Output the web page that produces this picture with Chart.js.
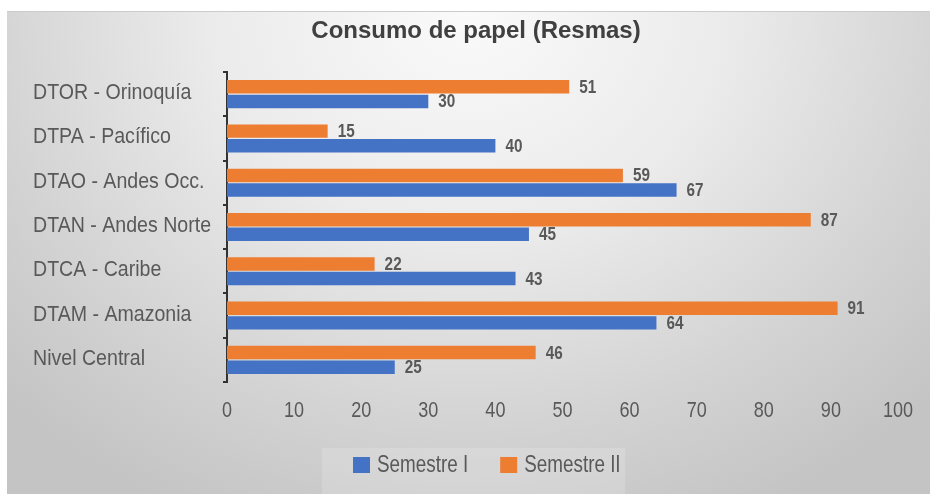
<!DOCTYPE html>
<html>
<head>
<meta charset="utf-8">
<script src="https://cdn.jsdelivr.net/npm/chart.js@4/dist/chart.umd.min.js"></script>
<style>
  html, body { margin: 0; padding: 0; background: #ffffff; }
  #wrap { position: relative; width: 930px; height: 494px; overflow: hidden; }
  #panel {
    position: absolute; left: 7px; top: 11px; right: 0; bottom: 0;
    border-top: 1px solid #cccccc;
    background: radial-gradient(ellipse 70% 115% at 50% 0%, #fafafa 0%, #ebebeb 40%, #d3d3d3 75%, #c4c4c4 100%);
  }
  #chart { position: absolute; left: 0; top: 0; }
</style>
</head>
<body>
<div id="wrap">
  <div id="panel"></div>
  <canvas id="chart" width="930" height="494"></canvas>
</div>
<script>
const chartTitle = 'Consumo de papel (Resmas)';
const categories = [
  'DTOR - Orinoquía',
  'DTPA - Pacífico',
  'DTAO - Andes Occ.',
  'DTAN - Andes Norte',
  'DTCA - Caribe',
  'DTAM - Amazonia',
  'Nivel Central'
];
const semestreI  = [30, 40, 67, 45, 43, 64, 25];
const semestreII = [51, 15, 59, 87, 22, 91, 46];
const xTicks = [0, 10, 20, 30, 40, 50, 60, 70, 80, 90, 100];

const BLUE = '#4472C4';
const ORANGE = '#ED7D31';
const TEXT = '#595959';
const SANS = "'Liberation Sans', Arial, sans-serif";

// Condensed text: regular face squeezed horizontally
function narrowText(ctx, text, x, y, align, sx) {
  ctx.save();
  ctx.translate(x, y);
  ctx.scale(sx, 1);
  ctx.textAlign = align;
  ctx.textBaseline = 'middle';
  ctx.fillText(text, 0, 0);
  ctx.restore();
}

// Value labels at the end of each bar
const valueLabels = {
  id: 'valueLabels',
  afterDatasetsDraw(chart) {
    const ctx = chart.ctx;
    ctx.save();
    ctx.font = 'bold 18px ' + SANS;
    ctx.fillStyle = TEXT;
    chart.data.datasets.forEach((ds, i) => {
      chart.getDatasetMeta(i).data.forEach((bar, j) => {
        narrowText(ctx, String(ds.data[j]), bar.x + 10, bar.y + 1, 'left', 0.85);
      });
    });
    ctx.restore();
  }
};

// Axis tick labels in the condensed style, placed from the scales
const axisLabels = {
  id: 'axisLabels',
  afterDraw(chart) {
    const ctx = chart.ctx;
    const xs = chart.scales.x, ys = chart.scales.y;
    ctx.save();
    ctx.fillStyle = TEXT;
    ctx.font = '22px ' + SANS;
    xs.ticks.forEach((t, i) => {
      narrowText(ctx, String(t.label), xs.getPixelForTick(i), xs.top + 29, 'center', 0.82);
    });
    ys.ticks.forEach((t, i) => {
      narrowText(ctx, String(t.label), 33, ys.getPixelForTick(i) - 1, 'left', 0.89);
    });
    ctx.restore();
  }
};

// Title and legend at fixed spots in the panel
const frame = {
  id: 'frame',
  beforeDraw(chart) {
    const ctx = chart.ctx;
    ctx.save();
    ctx.fillStyle = 'rgba(255,255,255,0.16)';
    ctx.fillRect(322, 448, 303, 46);
    ctx.restore();
  },
  afterDraw(chart) {
    const ctx = chart.ctx;
    ctx.save();
    ctx.font = 'bold 24px ' + SANS;
    ctx.fillStyle = '#404040';
    ctx.textAlign = 'center';
    ctx.textBaseline = 'middle';
    ctx.fillText(chartTitle, 476, 31);

    // legend: Semestre I first, then Semestre II
    ctx.font = '23px ' + SANS;
    const sx = 0.82;
    const items = [1, 0].map(i => chart.data.datasets[i]);
    let x = 353;
    items.forEach(ds => {
      ctx.fillStyle = ds.backgroundColor;
      ctx.fillRect(x, 457, 17, 16);
      ctx.fillStyle = TEXT;
      narrowText(ctx, ds.label, x + 24, 466, 'left', sx);
      x += 24 + ctx.measureText(ds.label).width * sx + 32;
    });
    ctx.restore();
  }
};

new Chart(document.getElementById('chart'), {
  type: 'bar',
  data: {
    labels: categories,
    datasets: [
      { label: 'Semestre II', data: semestreII, backgroundColor: ORANGE,
        categoryPercentage: 0.66, barPercentage: 0.92 },
      { label: 'Semestre I', data: semestreI, backgroundColor: BLUE,
        categoryPercentage: 0.66, barPercentage: 0.92 }
    ]
  },
  options: {
    indexAxis: 'y',
    responsive: false,
    animation: false,
    layout: { padding: { left: 33, right: 32, top: 72, bottom: 70 } },
    plugins: {
      legend: { display: false },
      title: { display: false },
      tooltip: { enabled: false }
    },
    scales: {
      x: {
        min: 0, max: 100,
        afterBuildTicks(scale) { scale.ticks = xTicks.map(v => ({ value: v })); },
        afterFit(scale) { scale.height = 42; },
        grid: { display: false },
        border: { display: false },
        ticks: { display: false }
      },
      y: {
        afterFit(scale) { scale.width = 227 - 33; },
        grid: { display: true, drawOnChartArea: false, offset: true, tickLength: 4, color: '#333333', lineWidth: 2 },
        border: { display: true, color: '#333333', width: 2 },
        ticks: { display: false }
      }
    }
  },
  plugins: [valueLabels, axisLabels, frame]
});
</script>
</body>
</html>
